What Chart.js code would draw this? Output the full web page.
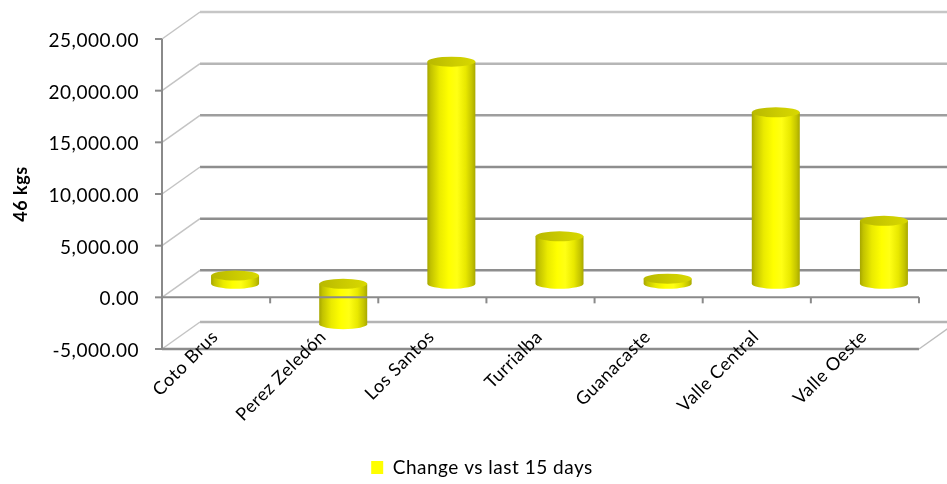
<!DOCTYPE html>
<html>
<head>
<meta charset="utf-8">
<script src="https://cdn.jsdelivr.net/npm/chart.js@4.4.1/dist/chart.umd.min.js"></script>
<style>
    html, body { margin: 0; padding: 0; background: #fff; }
    #contenedor { width: 947px; height: 484px; position: relative; }
</style>
</head>
<body>
<div id="contenedor"><canvas id="graficoCambio"></canvas></div>
<script>
/* ================================
      DATOS
================================ */
const regiones = ["Coto Brus", "Perez Zeledón", "Los Santos", "Turrialba", "Guanacaste", "Valle Central", "Valle Oeste"];
const cambio15dias = [800, -3900, 21500, 4600, 500, 16600, 6100];
const nombreSerie = "Change vs last 15 days";
const tituloEje = "46 kgs";
const ejeMin = -5000;
const ejeMax = 25000;
const ejePaso = 5000;

/* ================================
      ESTILO
================================ */
const FUENTE = "Lato, 'Open Sans', sans-serif";
const ESPACIADO = "0.5px";
const PROF_X = 38;      // profundidad de la caja 3D
const PROF_Y = -27;
const RADIO_X = 24;     // cilindros
const RADIO_Y = 5;
const CENTRO_LEYENDA = 482;

function formatoNumero(v) {
    return Number(v).toLocaleString("en-US", { minimumFractionDigits: 2, maximumFractionDigits: 2 });
}

function colorLineaFondo(v) {
    if (v >= 25000) return "#c6c6c6";
    if (v >= 20000) return "#b6b6b6";
    if (v >= 15000) return "#9e9e9e";
    if (v >= 0) return "#8e8e8e";
    return "#b4b4b4";
}

function linea(ctx, x1, y1, x2, y2) {
    ctx.beginPath();
    ctx.moveTo(x1, y1);
    ctx.lineTo(x2, y2);
    ctx.stroke();
}

function cilindro(ctx, cx, yTop, yBot) {
    const rx = RADIO_X, ry = RADIO_Y;

    const cuerpo = ctx.createLinearGradient(cx - rx, 0, cx + rx, 0);
    cuerpo.addColorStop(0, "#a6a600");
    cuerpo.addColorStop(0.07, "#c2c200");
    cuerpo.addColorStop(0.25, "#eaea00");
    cuerpo.addColorStop(0.45, "#ffff00");
    cuerpo.addColorStop(0.62, "#ffff14");
    cuerpo.addColorStop(0.8, "#e8e800");
    cuerpo.addColorStop(0.93, "#c4c400");
    cuerpo.addColorStop(1, "#a8a800");

    ctx.beginPath();
    ctx.moveTo(cx - rx, yTop);
    ctx.lineTo(cx - rx, yBot);
    ctx.ellipse(cx, yBot, rx, ry, 0, Math.PI, 0, true);
    ctx.lineTo(cx + rx, yTop);
    ctx.closePath();
    ctx.fillStyle = cuerpo;
    ctx.fill();

    const tapa = ctx.createLinearGradient(cx - rx, 0, cx + rx, 0);
    tapa.addColorStop(0, "#b8b800");
    tapa.addColorStop(0.6, "#cdcd00");
    tapa.addColorStop(1, "#d8d800");
    ctx.beginPath();
    ctx.ellipse(cx, yTop, rx, ry, 0, 0, Math.PI * 2);
    ctx.fillStyle = tapa;
    ctx.fill();
}

/* ================================
      CAJA 3D + CILINDROS
================================ */
const caja3d = {
    id: "caja3d",
    beforeLayout(chart) {
        chart.ctx.letterSpacing = ESPACIADO;
    },
    afterLayout(chart) {
        // la leyenda va un poco a la derecha del centro y algo más abajo
        const ley = chart.legend;
        const mover = CENTRO_LEYENDA - (ley.left + ley.right) / 2;
        ley.left += mover;
        ley.right += mover;
        ley.top += 3;
        ley.bottom += 3;
    },
    beforeDraw(chart) {
        const ctx = chart.ctx;
        ctx.letterSpacing = ESPACIADO;
        ctx.save();
        ctx.fillStyle = "#fff";
        ctx.fillRect(0, 0, chart.width, chart.height);
        ctx.restore();
    },
    beforeDatasetsDraw(chart) {
        const { ctx, chartArea: a, scales: { x, y } } = chart;
        const valores = [];
        for (let v = ejeMax; v >= ejeMin; v -= ejePaso) valores.push(v);

        ctx.save();
        ctx.lineCap = "butt";

        // pared del fondo y pared lateral
        valores.forEach(v => {
            const py = y.getPixelForValue(v);
            ctx.strokeStyle = colorLineaFondo(v);
            ctx.lineWidth = 2.5;
            linea(ctx, a.left + PROF_X, py + PROF_Y, a.right + PROF_X, py + PROF_Y);
            ctx.strokeStyle = "#c4c4c4";
            ctx.lineWidth = 1.5;
            linea(ctx, a.left, py, a.left + PROF_X, py + PROF_Y);
        });

        // cilindros a media profundidad
        const meta = chart.getDatasetMeta(0);
        meta.data.forEach(el => {
            const cx = el.x + PROF_X / 2;
            const yTop = Math.min(el.y, el.base) + PROF_Y / 2;
            const yBot = Math.max(el.y, el.base) + PROF_Y / 2;
            cilindro(ctx, cx, yTop, yBot);
        });

        // ejes del frente
        const y0 = y.getPixelForValue(0);
        ctx.strokeStyle = "#8a8a8a";
        ctx.lineWidth = 2;
        linea(ctx, a.left, a.top, a.left, a.bottom);
        valores.forEach(v => {
            const py = y.getPixelForValue(v);
            linea(ctx, a.left - 7, py, a.left, py);
        });
        linea(ctx, a.left, y0, a.right, y0);
        const ancho = (a.right - a.left) / regiones.length;
        for (let i = 0; i <= regiones.length; i++) {
            const px = a.left + i * ancho;
            linea(ctx, px, y0, px, y0 + 6);
        }
        ctx.strokeStyle = "#8c8c8c";
        ctx.lineWidth = 2.5;
        linea(ctx, a.left, a.bottom, a.right, a.bottom);
        ctx.strokeStyle = "#bdbdbd";
        ctx.lineWidth = 1.5;
        linea(ctx, a.right, a.bottom, a.right + PROF_X, a.bottom + PROF_Y);

        // etiquetas de categoría inclinadas
        ctx.fillStyle = "#000";
        ctx.font = "18px " + FUENTE;
        ctx.textAlign = "right";
        ctx.textBaseline = "alphabetic";
        regiones.forEach((r, i) => {
            const px = x.getPixelForValue(i);
            ctx.save();
            ctx.translate(px + 3, a.bottom - 11);
            ctx.rotate(-Math.PI / 4);
            ctx.fillText(r, 0, 0);
            ctx.restore();
        });

        ctx.restore();
        return false;
    }
};

/* ================================
      GRÁFICO
================================ */
new Chart(document.getElementById("graficoCambio"), {
    type: "bar",
    data: {
        labels: regiones,
        datasets: [{
            label: nombreSerie,
            data: cambio15dias,
            backgroundColor: "#FFFF00",
            borderWidth: 0
        }]
    },
    options: {
        responsive: true,
        maintainAspectRatio: false,
        animation: false,
        layout: { padding: { top: 39, right: 28, left: 0, bottom: 0 } },
        plugins: {
            legend: {
                position: "bottom",
                labels: {
                    font: { family: FUENTE, size: 19 },
                    color: "#000",
                    boxWidth: 12,
                    boxHeight: 13,
                    padding: 8
                }
            },
            tooltip: { enabled: false }
        },
        scales: {
            x: {
                ticks: { display: false },
                grid: { display: false },
                border: { display: false },
                afterFit(scale) { scale.height = 98; }
            },
            y: {
                min: ejeMin,
                max: ejeMax,
                ticks: {
                    stepSize: ejePaso,
                    callback: v => formatoNumero(v),
                    font: { family: FUENTE, size: 19 },
                    color: "#000",
                    padding: 23,
                    labelOffset: 2
                },
                grid: { display: false, drawTicks: false },
                border: { display: false },
                title: {
                    display: true,
                    text: tituloEje,
                    font: { family: FUENTE, size: 18, weight: "bold" },
                    color: "#000",
                    padding: { top: 10, bottom: 0 }
                },
                afterFit(scale) { scale.width = 162; }
            }
        }
    },
    plugins: [caja3d]
});
</script>
</body>
</html>
